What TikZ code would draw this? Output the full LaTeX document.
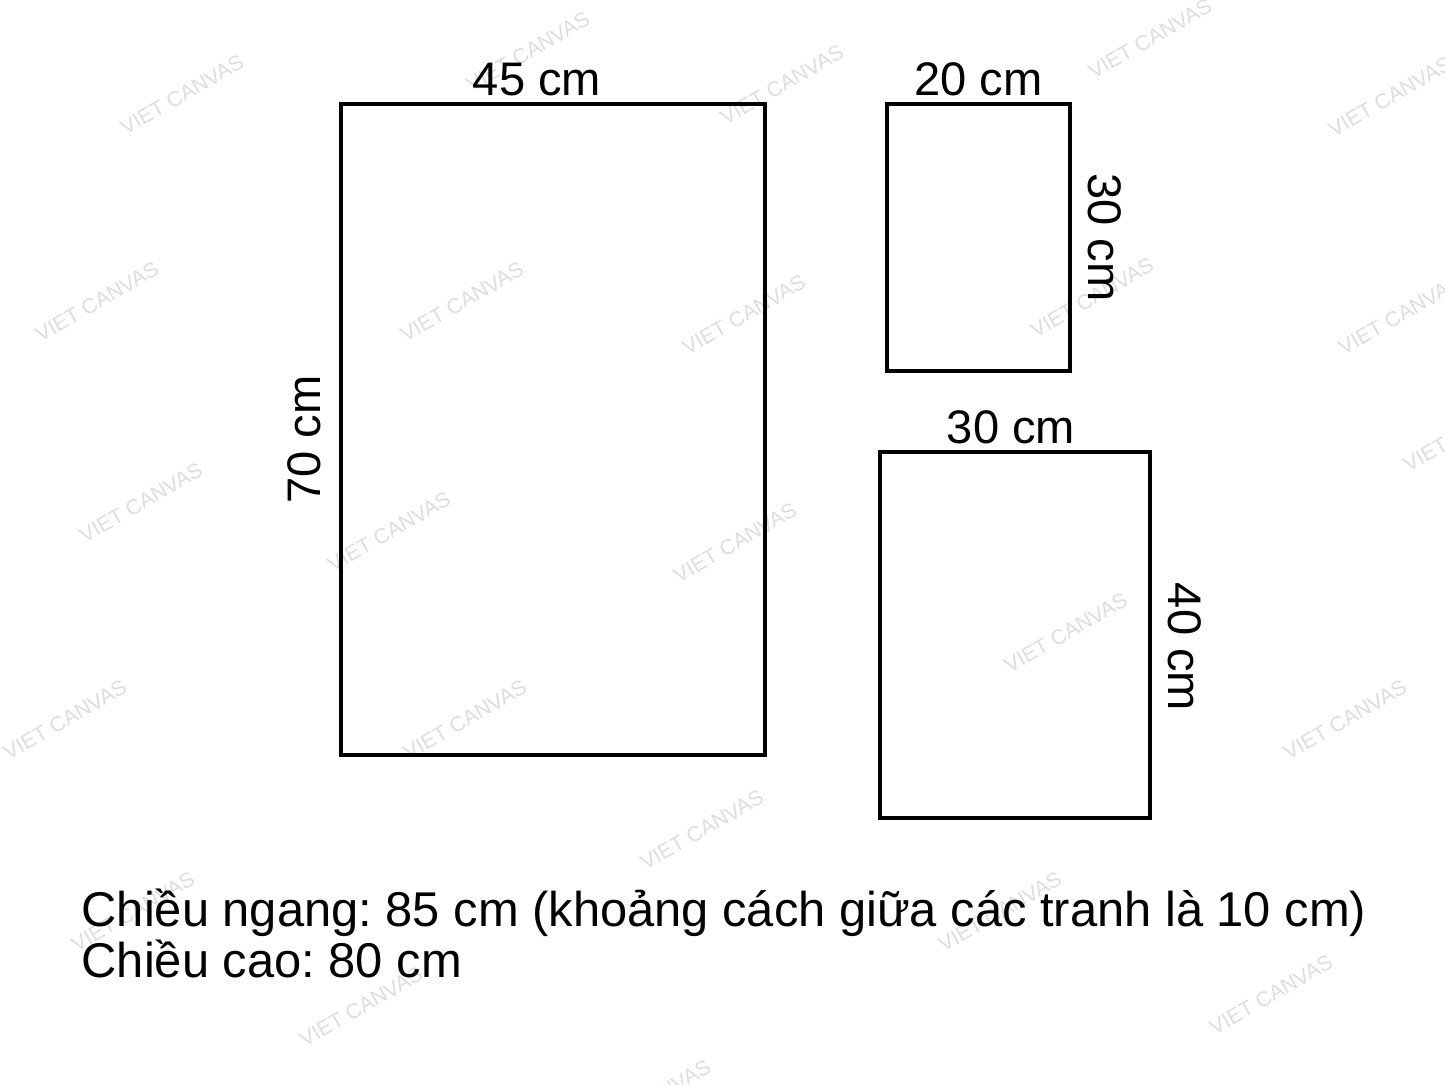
\documentclass[tikz,border=0pt]{standalone}
\usepackage{fontspec}
\setmainfont{Liberation Sans}
\usetikzlibrary{positioning}
\frenchspacing

\tikzset{
  frame/.style={draw, line width=1.15pt, inner sep=0pt, outer sep=0pt},
  lbl/.style={inner sep=0pt, font=\fontsize{13.4}{16}\selectfont},
  note/.style={inner sep=0pt, font=\fontsize{13.9}{17}\selectfont},
  wm/.style={rotate=30, text=black!13, inner sep=0pt, font=\fontsize{6}{7}\selectfont}
}

\begin{document}
\begin{tikzpicture}
\useasboundingbox (0,0) rectangle (14.45,10.84);
\fill[white] (0,0) rectangle (14.45,10.84);
% watermark
\foreach \x/\y [count=\i] in {1.82/9.89, 5.28/10.32, 7.82/9.99, 11.50/10.45, 13.90/9.87,
    0.97/7.82, 4.62/7.82, 7.44/7.69, 10.92/7.86, 14.00/7.69,
    1.41/5.81, 3.89/5.52, 7.35/5.41, 14.65/6.52, 10.66/4.51,
    0.65/3.64, 4.65/3.64, 13.45/3.64, 7.02/2.54,
    1.33/1.72, 10.00/1.72, 3.61/0.77, 12.71/0.89, 6.49/-0.16}
    \node[wm] (wm\i) at (\x,\y) {VIET CANVAS};

% the three frames
\node[frame, minimum width=4.24cm, minimum height=6.51cm] (big) at (5.53,6.545) {};
\node[frame, minimum width=1.83cm, minimum height=2.67cm] (small) at (9.785,8.465) {};
\node[frame, minimum width=2.70cm, minimum height=3.66cm] (mid) at (10.15,4.49) {};

% sizes
\node[lbl, anchor=south] (bigw) at ([xshift=-0.16cm, yshift=0.07cm]big.north) {45 cm};
\node[lbl, anchor=south, rotate=90] (bigh) at ([xshift=-0.19cm, yshift=-0.1cm]big.west) {70 cm};
\node[lbl, anchor=south] (smallw) at ([yshift=0.07cm]small.north) {20 cm};
\node[lbl, anchor=south, rotate=-90] (smallh) at ([xshift=0.17cm]small.east) {30 cm};
\node[lbl, anchor=south] (midw) at ([xshift=-0.04cm, yshift=0.07cm]mid.north) {30 cm};
\node[lbl, anchor=south, rotate=-90] (midh) at ([xshift=0.17cm, yshift=-0.12cm]mid.east) {40 cm};

% totals
\node[note, anchor=base west] (ngang) at (0.81,1.58) {Chiều ngang: 85 cm (khoảng cách giữa các tranh là 10 cm)};
\node[note, anchor=base west] (cao) at ([yshift=-0.51cm]ngang.base west) {Chiều cao: 80 cm};
\end{tikzpicture}
\end{document}
